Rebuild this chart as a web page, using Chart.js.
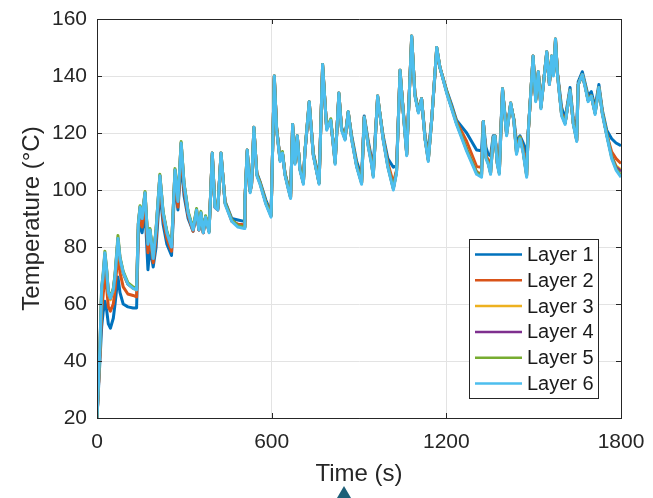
<!DOCTYPE html>
<html><head><meta charset="utf-8">
<script src="https://cdn.jsdelivr.net/npm/chart.js@4.4.1/dist/chart.umd.min.js"></script>
<style>
html,body{margin:0;padding:0;background:#fff;overflow:hidden}
#wrap{position:relative;width:653px;height:498px}
#tri{position:absolute;left:337px;top:486px;width:0;height:0;border-left:7px solid transparent;border-right:7px solid transparent;border-bottom:12px solid #1d5f78}
</style></head>
<body><div id="wrap"><canvas id="c" width="653" height="498"></canvas><div id="tri"></div></div>
<script>
const times = [0,5,10,16,21,27,33,39,46,56,
62,72,79,90,106,124,136,142,148,155,
165,175,182,193,203,216,227,240,256,268,
278,289,299,313,330,342,350,357,365,373,
385,396,405,415,426,440,463,484,506,508,
516,526,531,539,549,560,580,598,609,617,
629,637,646,660,665,672,680,688,697,709,
714,729,743,763,775,789,803,818,831,840,
852,863,875,892,909,918,932,943,949,964,
983,999,1018,1029,1041,1052,1064,1081,1092,1104,
1115,1127,1138,1150,1167,1178,1201,1218,1235,1270,
1304,1321,1327,1336,1344,1352,1361,1367,1375,1382,
1393,1407,1421,1432,1441,1453,1464,1476,1481,1498,
1507,1516,1525,1545,1554,1562,1568,1575,1582,1596,
1608,1625,1636,1648,1653,1667,1678,1687,1698,1711,
1724,1736,1751,1768,1783,1800];

const layer1 = [20,30,40,52,57,61,58,53,51.5,55,
60,69.5,64,60,59,58.6,58.6,84,89,85,
93,72,80,73,80,100,88,81,77,103,
93,110,98,90,85.5,92,86,91.5,85.5,90.5,
86,112,95,94,112,96,90,89.5,89,96,
113,100,102.5,121,106,103,96.5,92,139,122,
111,113,106,100,98.5,122,110,118.5,108,103.5,
113,130,113,104,143,122,124,111,133,122,
119,127,119,110,104.7,126,117,111,108.5,132,
119,111,108,108.5,141,128,114,153,134,128,
132,119,113,125,149,143,135,130,124.5,120,
114,113.8,124,115,112.5,112,119,119,112,110,
135,121,130,125,117,119,116.5,113,120,146,
132,141,130,148,137.5,146,141,152,141,129,
125,136,125,122,138,141.5,137,133,134.5,129,
137,128,121,118,116.5,115.5];

const layer2 = [20,31,42,58,63,70,66,59,57.5,60,
65,78,71,66,63.5,63,62.5,86,91,87,
96,78,83,74.5,83,103,90,83,78.5,105,
94,113,100,91,85.5,92.5,86,91.5,85,90.5,
85.5,112.5,94.5,93.5,112.5,95.5,89,88,87.8,96,
113.5,99.5,102,121.5,105.5,102.5,95.5,91,139.5,121.5,
110.5,113,105.5,99.5,97.5,122.5,109.5,118.5,107.5,102.5,
113,130.5,112.5,102.5,143.5,121.5,124,110,133.5,121.5,
118,127,118,108.5,103,125.5,116,110,106,132.5,
118,109.5,102.5,107,141.5,127.5,113,153.5,133.5,127.5,
132,118,111,125,149.5,143,134.5,129,124,117,
108.2,108,124,112,110.5,108,118.5,119,109.5,107,
135,120,130,124.5,114,118.5,114.5,107.6,119.5,146.5,
131.5,141,129,148,137,146.5,140.5,152.5,140.5,127,
123.5,135,123.5,118.5,137,140.5,136,131.5,133,127.5,
136,127,119.5,113.4,111,109.3];

const layer3 = [20,31.5,44,64,69,77,71.5,63.5,61.5,64.5,
69.5,82.5,75.5,70.5,67,65.5,65,88,94,90,
99,81,86,76,86,105,92,85,80,107,
96,116.5,102,92,86,93,86,92,85,90.5,
85.5,113,94,93,113,95.5,89.5,87.5,87,96,
114,99.5,102,122,105.5,102.5,95.5,91,140,121.5,
110.5,113,105.5,99.5,97.5,123,109.5,119,107.5,102.5,
113,131,112.5,102.5,144,121.5,124.5,109.5,134,121.5,
118,127.5,118,108.5,102.5,125.5,115.5,109.5,105,133,
118,108.5,100.8,106.5,142,127.5,112.5,154,133.5,127.5,
132,118,110.5,125,150,143,134.5,129,123.5,114.5,
106.5,105.5,124,111.5,109.5,106,118.5,119,109.5,106,
135.5,119.5,130.5,124.5,113.5,118.5,113.5,105.5,119.5,147,
131.5,141.5,129,148.5,137.5,147,140.5,153,140.5,126.5,
123.5,135,123.5,117.5,137,140.5,136,131.5,133,127,
136,127,119.5,112,108.5,107];

const layer4 = [20,31.5,44.5,65,69.5,77.5,72,64,62,65,
70,83,76,71,67,65.7,65.2,88,94,90,
99,81,86,76,86,105,92,85,80,107,
96,116.5,102,92,86,93,86,92,85,90.5,
85.5,113,94,93,113,95.5,89.5,87.5,87,96,
114,99.5,102,122,105.5,102.5,95.5,91,140,121.5,
110.5,113,105.5,99.5,97.5,123,109.5,119,107.5,102.5,
113,131,112.5,102.5,144,121.5,124.5,109.5,134,121.5,
118,127.5,118,108.5,102.5,125.5,115.5,109.5,105,133,
118,108.5,100.6,106.5,142,127.5,112.5,154,133.5,127.5,
132,118,110.5,125,150,143,134.5,129,123.5,114.2,
106.2,105.2,124,111.5,109.5,106,118.5,119,109.5,106,
135.5,119.5,130.5,124.5,113.2,118.5,113.5,105.2,119.5,147,
131.5,141.5,129,148.5,137.5,147,140.5,153,140.5,126.5,
123.5,135,123.5,117.5,137,140.5,136,131.5,133,127,
136,127,119.5,111.8,108,106.5];

const layer5 = [20,32,45,66,70.5,78.5,72.5,64.5,62.5,65.5,
70.5,84,76.5,71.5,67.5,66,65.5,88.5,94.5,90.5,
99.5,81.5,86.5,76.5,86.5,105.5,92.5,85.5,80.5,107.5,
96.5,117,102.5,92.5,86.5,93.5,86.5,92.5,85.5,91,
85.5,113,94.5,93.5,113,95.5,89.5,87.5,87,96.5,
114,99.5,102.5,122,105.5,102.5,95.5,91,140,121.5,
110.5,113.5,105.5,99.5,97.5,123,109.5,119,107.5,102.5,
113.5,131,112.5,102.5,144,121.5,125,109.5,134,121.5,
118,127.5,118,108.5,102.5,125.5,115.5,109.5,105,133,
118,108.5,100.5,106.5,142,127.5,112.5,154,133.5,127.5,
132,118,110.5,125,150,143,134.5,129,123.5,114,
106,105,124,111.5,109.5,106,118.5,119,109.5,106,
135.5,119.5,130.5,124.5,113,118.5,113.5,105,119.5,147,
131.5,141.5,129,148.5,137.5,147,140.5,153,140.5,126.5,
123.5,135,123.5,117.5,137,140.5,136,131.5,133,127,
136,127,119.5,111.5,107.5,105.2];

const layer6 = [20,32,45,66,70,78,72,64,62,65,
70,83,76,71,67,65.5,65,88,94,90,
99,81,86,76,86,105,92,85,80,107,
96,116.5,102,92,86,93,86,92,85,90.5,
85,113,94,93,113,95,89,87,86.5,96,
114,99,102,122,105,102,95,90.5,140,121,
110,113,105,99,97,123,109,119,107,102,
113,131,112,102,144,121,124.5,109,134,121,
117.5,127.5,117.5,108,102,125.5,115,109,104.5,133,
117.5,108,100,106,142,127,112,154,133,127,
132,117.5,110,125,150,143,134,128.5,123,113.5,
105.5,104.5,124,111,109,105.5,118.5,119,109,105.5,
135.5,119,130.5,124,112.5,118,113,104.5,119.5,147,
131,141.5,128.5,148.5,137,147,140,153,140,126,
123,135,123,117,137,140.5,135.5,131,133,126.5,
136,126.5,119,111,107,104.5];

const seriesNames = ['Layer 1','Layer 2','Layer 3','Layer 4','Layer 5','Layer 6'];
const seriesValues = [layer1, layer2, layer3, layer4, layer5, layer6];
const seriesColors = ['#0072BD','#D95319','#EDB120','#7E2F8E','#77AC30','#4DBEEE'];
const xTicks = [0, 600, 1200, 1800];
const yTicks = [20, 40, 60, 80, 100, 120, 140, 160];

const FONT = "'Liberation Sans', Arial, Helvetica, sans-serif";
const AXIS = '#262626';

const datasets = seriesNames.map((name, i) => ({
  label: name,
  data: times.map((t, k) => ({x: t, y: seriesValues[i][k]})),
  borderColor: seriesColors[i],
  backgroundColor: seriesColors[i],
  borderWidth: 3,
  pointRadius: 0,
  tension: 0,
  fill: false,
  borderJoinStyle: 'round',
  order: seriesNames.length - 1 - i
}));

const zeroPad = s => { s.paddingLeft = 0; s.paddingRight = 0; s.paddingTop = 0; s.paddingBottom = 0; };

const framePlugin = {
  id: 'frame',
  afterDatasetsDraw(chart) {
    const {ctx, chartArea: a, scales: {x, y}} = chart;
    ctx.save();
    ctx.strokeStyle = AXIS;
    ctx.lineWidth = 1;
    ctx.beginPath();
    ctx.moveTo(a.left + 0.5, a.top + 0.5); ctx.lineTo(a.right + 0.5, a.top + 0.5);
    ctx.lineTo(a.right + 0.5, a.bottom + 0.5); ctx.lineTo(a.left + 0.5, a.bottom + 0.5);
    ctx.closePath();
    ctx.stroke();
    const tl = 5;
    ctx.beginPath();
    xTicks.forEach(v => {
      const px = Math.round(x.getPixelForValue(v)) + 0.5;
      ctx.moveTo(px, a.bottom); ctx.lineTo(px, a.bottom - tl);
      ctx.moveTo(px, a.top); ctx.lineTo(px, a.top + tl);
    });
    yTicks.forEach(v => {
      const py = Math.round(y.getPixelForValue(v)) + 0.5;
      ctx.moveTo(a.left, py); ctx.lineTo(a.left + tl, py);
      ctx.moveTo(a.right, py); ctx.lineTo(a.right - tl, py);
    });
    ctx.stroke();
    ctx.restore();
  },
  afterDraw(chart) {
    const ctx = chart.ctx;
    const bx = 469.5, by = 239.5, bw = 129, bh = 159;
    ctx.save();
    ctx.fillStyle = '#fff';
    ctx.fillRect(bx, by, bw, bh);
    ctx.strokeStyle = AXIS;
    ctx.lineWidth = 1;
    ctx.strokeRect(bx, by, bw, bh);
    ctx.font = '20px ' + FONT;
    ctx.textBaseline = 'middle';
    ctx.textAlign = 'left';
    chart.data.datasets.forEach((ds, i) => {
      const yy = 254.5 + i * 25.8;
      ctx.strokeStyle = ds.borderColor;
      ctx.lineWidth = 2.5;
      ctx.beginPath(); ctx.moveTo(475, yy); ctx.lineTo(522, yy); ctx.stroke();
      ctx.fillStyle = '#1a1a1a';
      ctx.fillText(ds.label, 527, yy + 1);
    });
    ctx.restore();
  }
};

new Chart(document.getElementById('c'), {
  type: 'line',
  data: {datasets},
  options: {
    responsive: false,
    devicePixelRatio: 1,
    animation: false,
    layout: {padding: {left: 0, top: 19, right: 32, bottom: 0}},
    plugins: {legend: {display: false}, tooltip: {enabled: false}},
    scales: {
      x: {
        type: 'linear', min: 0, max: 1800,
        afterBuildTicks: s => { s.ticks = xTicks.map(v => ({value: v})); },
        afterFit: s => { s.height = 80; zeroPad(s); },
        ticks: {font: {size: 21, family: FONT}, color: AXIS, padding: 12, maxRotation: 0, autoSkip: false,
                callback: v => String(v)},
        grid: {color: '#e3e3e3', drawTicks: false},
        border: {color: AXIS, width: 1},
        title: {display: true, text: 'Time (s)', font: {size: 24, family: FONT}, color: AXIS, padding: {top: 0, bottom: 9.6}}
      },
      y: {
        type: 'linear', min: 20, max: 160,
        afterBuildTicks: s => { s.ticks = yTicks.map(v => ({value: v})); },
        afterFit: s => { s.width = 97; zeroPad(s); },
        ticks: {font: {size: 21, family: FONT}, color: AXIS, padding: 10, autoSkip: false,
                callback: v => String(v)},
        grid: {color: '#e3e3e3', drawTicks: false},
        border: {color: AXIS, width: 1},
        title: {display: true, text: 'Temperature (°C)', font: {size: 24, family: FONT}, color: AXIS, padding: {top: 17.6, bottom: 0}}
      }
    }
  },
  plugins: [framePlugin]
});
</script>
</body></html>
